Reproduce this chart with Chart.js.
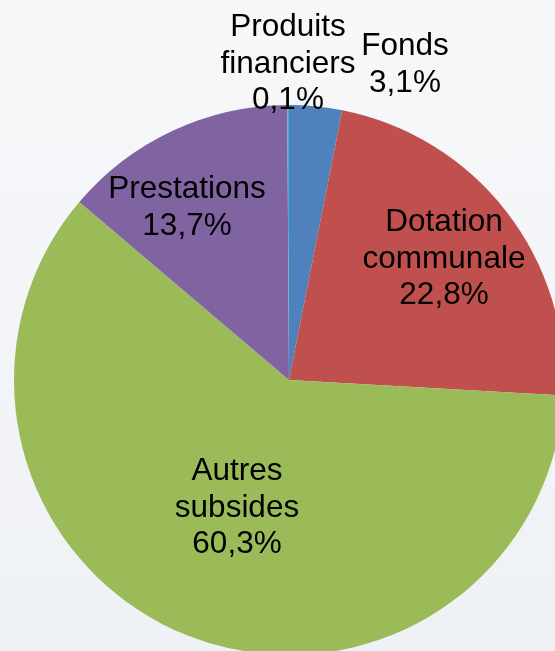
<!DOCTYPE html>
<html>
<head>
<meta charset="utf-8">
<script src="https://cdn.jsdelivr.net/npm/chart.js@4.4.0/dist/chart.umd.min.js"></script>
<style>
  html, body { margin: 0; padding: 0; width: 555px; height: 651px; overflow: hidden; }
  body { background: linear-gradient(180deg, #f7f8fa 0%, #f1f3f6 70%, #eef1f5 100%); position: relative; }
  #pie { position: absolute; left: 0; top: 0; }
</style>
</head>
<body>
<canvas id="pie" width="578" height="760"></canvas>
<script>
// data (clockwise from 12 o'clock)
const categories = ["Fonds", "Dotation communale", "Autres subsides", "Prestations", "Produits financiers"];
const shares = [3.1, 22.8, 60.3, 13.7, 0.1];
const colors = ["#4f81bd", "#c0504d", "#9bbb59", "#8064a2", "#4bacc6"];

// where each label's first line sits (x centre, baseline)
const labelAnchors = [
  { x: 405, y: 55 },
  { x: 444, y: 231 },
  { x: 237, y: 480 },
  { x: 187, y: 198 },
  { x: 288, y: 36 }
];
const LINE_H = 36.5;

function pct(v){
  return v.toFixed(1).replace(".", ",") + "%";
}

const labelPlugin = {
  id: "sliceLabels",
  afterDraw(chart){
    const ctx = chart.ctx;
    ctx.save();
    ctx.font = '31.5px "Liberation Sans", Arial, sans-serif';
    ctx.fillStyle = "#000";
    ctx.textAlign = "center";
    ctx.textBaseline = "alphabetic";
    categories.forEach((name, i) => {
      const lines = name.split(" ").concat([pct(shares[i])]);
      const a = labelAnchors[i];
      lines.forEach((ln, k) => ctx.fillText(ln, a.x, a.y + k * LINE_H));
    });
    ctx.restore();
  }
};

new Chart(document.getElementById("pie").getContext("2d"), {
  type: "pie",
  data: {
    labels: categories,
    datasets: [{
      data: shares,
      backgroundColor: colors,
      borderWidth: 0,
      hoverOffset: 0
    }]
  },
  options: {
    responsive: false,
    devicePixelRatio: 1,
    animation: false,
    events: [],
    layout: { padding: { left: 14, right: 14, top: 105, bottom: 105 } },
    plugins: {
      legend: { display: false },
      tooltip: { enabled: false }
    }
  },
  plugins: [labelPlugin]
});
</script>
</body>
</html>
